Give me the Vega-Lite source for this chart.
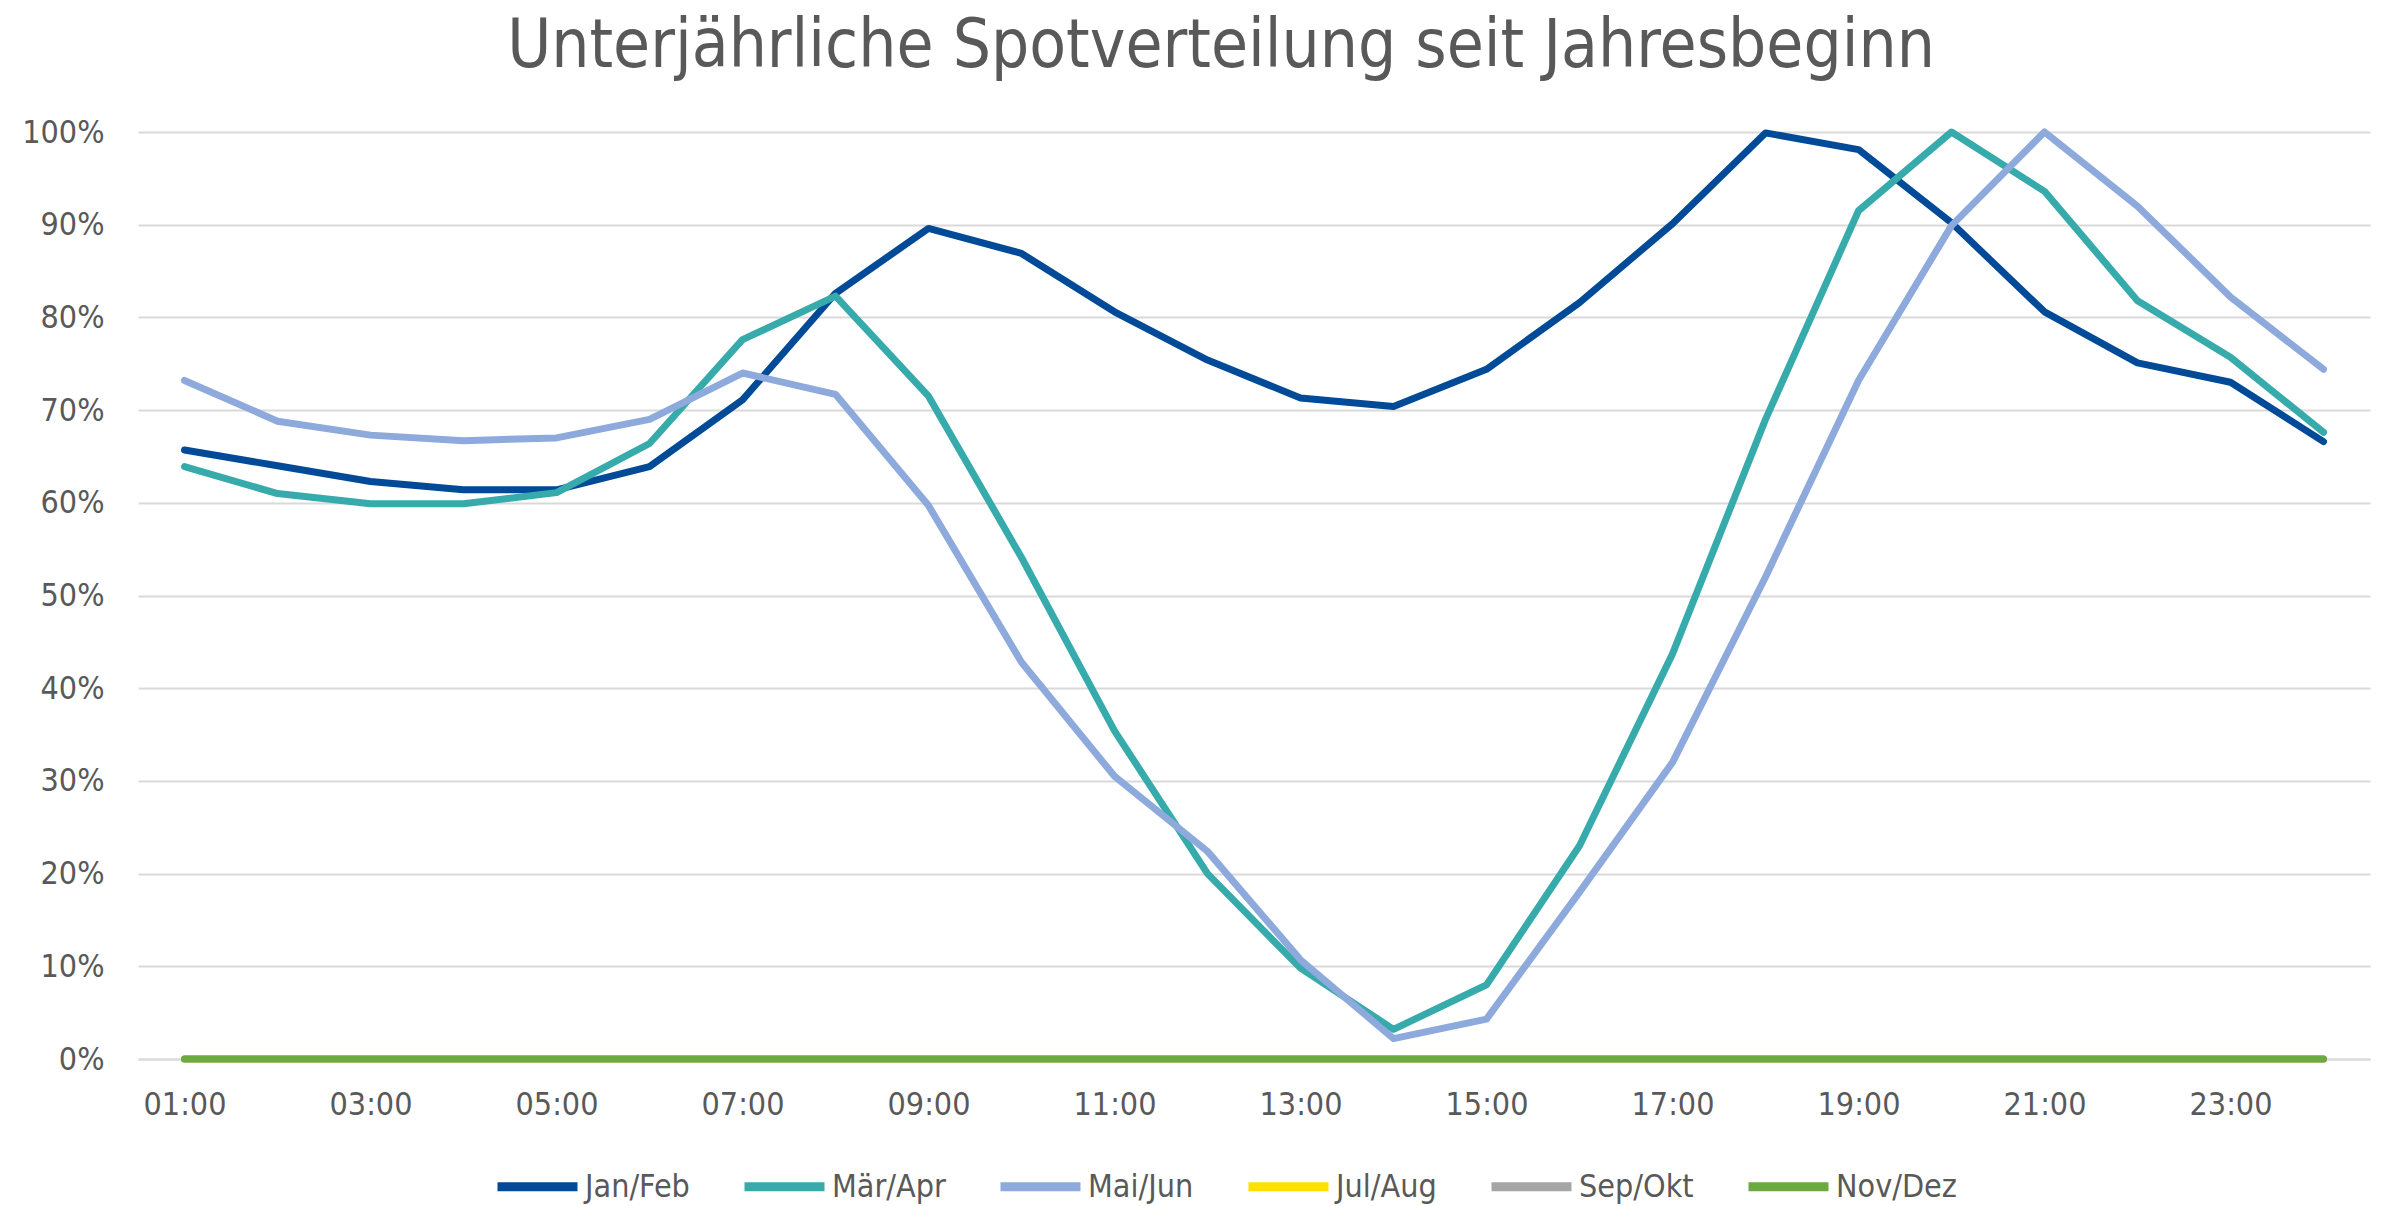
{
  "$schema": "https://vega.github.io/schema/vega-lite/v6.json",
  "autosize": "none",
  "width": 2232,
  "height": 927,
  "padding": {"left": 138, "top": 132, "right": 30, "bottom": 147},
  "background": "white",
  "config": {
    "font": "DejaVu Sans Condensed",
    "view": {"stroke": null}
  },
  "title": {
    "text": "Unterjährliche Spotverteilung seit Jahresbeginn",
    "fontSize": 67,
    "fontWeight": "normal",
    "color": "#595959",
    "anchor": "middle",
    "baseline": "alphabetic",
    "offset": -18,
    "dx": -33
  },
  "datasets": {
    "spots": [
      {"stunde": "01:00", "zeitraum": "Jan/Feb", "anteil": 0.657},
      {"stunde": "02:00", "zeitraum": "Jan/Feb", "anteil": 0.640},
      {"stunde": "03:00", "zeitraum": "Jan/Feb", "anteil": 0.623},
      {"stunde": "04:00", "zeitraum": "Jan/Feb", "anteil": 0.614},
      {"stunde": "05:00", "zeitraum": "Jan/Feb", "anteil": 0.614},
      {"stunde": "06:00", "zeitraum": "Jan/Feb", "anteil": 0.639},
      {"stunde": "07:00", "zeitraum": "Jan/Feb", "anteil": 0.711},
      {"stunde": "08:00", "zeitraum": "Jan/Feb", "anteil": 0.826},
      {"stunde": "09:00", "zeitraum": "Jan/Feb", "anteil": 0.896},
      {"stunde": "10:00", "zeitraum": "Jan/Feb", "anteil": 0.869},
      {"stunde": "11:00", "zeitraum": "Jan/Feb", "anteil": 0.806},
      {"stunde": "12:00", "zeitraum": "Jan/Feb", "anteil": 0.754},
      {"stunde": "13:00", "zeitraum": "Jan/Feb", "anteil": 0.713},
      {"stunde": "14:00", "zeitraum": "Jan/Feb", "anteil": 0.704},
      {"stunde": "15:00", "zeitraum": "Jan/Feb", "anteil": 0.744},
      {"stunde": "16:00", "zeitraum": "Jan/Feb", "anteil": 0.816},
      {"stunde": "17:00", "zeitraum": "Jan/Feb", "anteil": 0.901},
      {"stunde": "18:00", "zeitraum": "Jan/Feb", "anteil": 0.999},
      {"stunde": "19:00", "zeitraum": "Jan/Feb", "anteil": 0.981},
      {"stunde": "20:00", "zeitraum": "Jan/Feb", "anteil": 0.902},
      {"stunde": "21:00", "zeitraum": "Jan/Feb", "anteil": 0.806},
      {"stunde": "22:00", "zeitraum": "Jan/Feb", "anteil": 0.751},
      {"stunde": "23:00", "zeitraum": "Jan/Feb", "anteil": 0.730},
      {"stunde": "24:00", "zeitraum": "Jan/Feb", "anteil": 0.666},
      {"stunde": "01:00", "zeitraum": "Mär/Apr", "anteil": 0.639},
      {"stunde": "02:00", "zeitraum": "Mär/Apr", "anteil": 0.610},
      {"stunde": "03:00", "zeitraum": "Mär/Apr", "anteil": 0.599},
      {"stunde": "04:00", "zeitraum": "Mär/Apr", "anteil": 0.599},
      {"stunde": "05:00", "zeitraum": "Mär/Apr", "anteil": 0.611},
      {"stunde": "06:00", "zeitraum": "Mär/Apr", "anteil": 0.664},
      {"stunde": "07:00", "zeitraum": "Mär/Apr", "anteil": 0.776},
      {"stunde": "08:00", "zeitraum": "Mär/Apr", "anteil": 0.823},
      {"stunde": "09:00", "zeitraum": "Mär/Apr", "anteil": 0.715},
      {"stunde": "10:00", "zeitraum": "Mär/Apr", "anteil": 0.541},
      {"stunde": "11:00", "zeitraum": "Mär/Apr", "anteil": 0.354},
      {"stunde": "12:00", "zeitraum": "Mär/Apr", "anteil": 0.200},
      {"stunde": "13:00", "zeitraum": "Mär/Apr", "anteil": 0.098},
      {"stunde": "14:00", "zeitraum": "Mär/Apr", "anteil": 0.032},
      {"stunde": "15:00", "zeitraum": "Mär/Apr", "anteil": 0.080},
      {"stunde": "16:00", "zeitraum": "Mär/Apr", "anteil": 0.230},
      {"stunde": "17:00", "zeitraum": "Mär/Apr", "anteil": 0.437},
      {"stunde": "18:00", "zeitraum": "Mär/Apr", "anteil": 0.690},
      {"stunde": "19:00", "zeitraum": "Mär/Apr", "anteil": 0.915},
      {"stunde": "20:00", "zeitraum": "Mär/Apr", "anteil": 1.000},
      {"stunde": "21:00", "zeitraum": "Mär/Apr", "anteil": 0.936},
      {"stunde": "22:00", "zeitraum": "Mär/Apr", "anteil": 0.818},
      {"stunde": "23:00", "zeitraum": "Mär/Apr", "anteil": 0.757},
      {"stunde": "24:00", "zeitraum": "Mär/Apr", "anteil": 0.676},
      {"stunde": "01:00", "zeitraum": "Mai/Jun", "anteil": 0.732},
      {"stunde": "02:00", "zeitraum": "Mai/Jun", "anteil": 0.688},
      {"stunde": "03:00", "zeitraum": "Mai/Jun", "anteil": 0.673},
      {"stunde": "04:00", "zeitraum": "Mai/Jun", "anteil": 0.667},
      {"stunde": "05:00", "zeitraum": "Mai/Jun", "anteil": 0.670},
      {"stunde": "06:00", "zeitraum": "Mai/Jun", "anteil": 0.690},
      {"stunde": "07:00", "zeitraum": "Mai/Jun", "anteil": 0.740},
      {"stunde": "08:00", "zeitraum": "Mai/Jun", "anteil": 0.717},
      {"stunde": "09:00", "zeitraum": "Mai/Jun", "anteil": 0.597},
      {"stunde": "10:00", "zeitraum": "Mai/Jun", "anteil": 0.428},
      {"stunde": "11:00", "zeitraum": "Mai/Jun", "anteil": 0.305},
      {"stunde": "12:00", "zeitraum": "Mai/Jun", "anteil": 0.224},
      {"stunde": "13:00", "zeitraum": "Mai/Jun", "anteil": 0.107},
      {"stunde": "14:00", "zeitraum": "Mai/Jun", "anteil": 0.022},
      {"stunde": "15:00", "zeitraum": "Mai/Jun", "anteil": 0.043},
      {"stunde": "16:00", "zeitraum": "Mai/Jun", "anteil": 0.180},
      {"stunde": "17:00", "zeitraum": "Mai/Jun", "anteil": 0.320},
      {"stunde": "18:00", "zeitraum": "Mai/Jun", "anteil": 0.520},
      {"stunde": "19:00", "zeitraum": "Mai/Jun", "anteil": 0.732},
      {"stunde": "20:00", "zeitraum": "Mai/Jun", "anteil": 0.899},
      {"stunde": "21:00", "zeitraum": "Mai/Jun", "anteil": 1.000},
      {"stunde": "22:00", "zeitraum": "Mai/Jun", "anteil": 0.920},
      {"stunde": "23:00", "zeitraum": "Mai/Jun", "anteil": 0.822},
      {"stunde": "24:00", "zeitraum": "Mai/Jun", "anteil": 0.744},
      {"stunde": "01:00", "zeitraum": "Jul/Aug", "anteil": 0},
      {"stunde": "02:00", "zeitraum": "Jul/Aug", "anteil": 0},
      {"stunde": "03:00", "zeitraum": "Jul/Aug", "anteil": 0},
      {"stunde": "04:00", "zeitraum": "Jul/Aug", "anteil": 0},
      {"stunde": "05:00", "zeitraum": "Jul/Aug", "anteil": 0},
      {"stunde": "06:00", "zeitraum": "Jul/Aug", "anteil": 0},
      {"stunde": "07:00", "zeitraum": "Jul/Aug", "anteil": 0},
      {"stunde": "08:00", "zeitraum": "Jul/Aug", "anteil": 0},
      {"stunde": "09:00", "zeitraum": "Jul/Aug", "anteil": 0},
      {"stunde": "10:00", "zeitraum": "Jul/Aug", "anteil": 0},
      {"stunde": "11:00", "zeitraum": "Jul/Aug", "anteil": 0},
      {"stunde": "12:00", "zeitraum": "Jul/Aug", "anteil": 0},
      {"stunde": "13:00", "zeitraum": "Jul/Aug", "anteil": 0},
      {"stunde": "14:00", "zeitraum": "Jul/Aug", "anteil": 0},
      {"stunde": "15:00", "zeitraum": "Jul/Aug", "anteil": 0},
      {"stunde": "16:00", "zeitraum": "Jul/Aug", "anteil": 0},
      {"stunde": "17:00", "zeitraum": "Jul/Aug", "anteil": 0},
      {"stunde": "18:00", "zeitraum": "Jul/Aug", "anteil": 0},
      {"stunde": "19:00", "zeitraum": "Jul/Aug", "anteil": 0},
      {"stunde": "20:00", "zeitraum": "Jul/Aug", "anteil": 0},
      {"stunde": "21:00", "zeitraum": "Jul/Aug", "anteil": 0},
      {"stunde": "22:00", "zeitraum": "Jul/Aug", "anteil": 0},
      {"stunde": "23:00", "zeitraum": "Jul/Aug", "anteil": 0},
      {"stunde": "24:00", "zeitraum": "Jul/Aug", "anteil": 0},
      {"stunde": "01:00", "zeitraum": "Sep/Okt", "anteil": 0},
      {"stunde": "02:00", "zeitraum": "Sep/Okt", "anteil": 0},
      {"stunde": "03:00", "zeitraum": "Sep/Okt", "anteil": 0},
      {"stunde": "04:00", "zeitraum": "Sep/Okt", "anteil": 0},
      {"stunde": "05:00", "zeitraum": "Sep/Okt", "anteil": 0},
      {"stunde": "06:00", "zeitraum": "Sep/Okt", "anteil": 0},
      {"stunde": "07:00", "zeitraum": "Sep/Okt", "anteil": 0},
      {"stunde": "08:00", "zeitraum": "Sep/Okt", "anteil": 0},
      {"stunde": "09:00", "zeitraum": "Sep/Okt", "anteil": 0},
      {"stunde": "10:00", "zeitraum": "Sep/Okt", "anteil": 0},
      {"stunde": "11:00", "zeitraum": "Sep/Okt", "anteil": 0},
      {"stunde": "12:00", "zeitraum": "Sep/Okt", "anteil": 0},
      {"stunde": "13:00", "zeitraum": "Sep/Okt", "anteil": 0},
      {"stunde": "14:00", "zeitraum": "Sep/Okt", "anteil": 0},
      {"stunde": "15:00", "zeitraum": "Sep/Okt", "anteil": 0},
      {"stunde": "16:00", "zeitraum": "Sep/Okt", "anteil": 0},
      {"stunde": "17:00", "zeitraum": "Sep/Okt", "anteil": 0},
      {"stunde": "18:00", "zeitraum": "Sep/Okt", "anteil": 0},
      {"stunde": "19:00", "zeitraum": "Sep/Okt", "anteil": 0},
      {"stunde": "20:00", "zeitraum": "Sep/Okt", "anteil": 0},
      {"stunde": "21:00", "zeitraum": "Sep/Okt", "anteil": 0},
      {"stunde": "22:00", "zeitraum": "Sep/Okt", "anteil": 0},
      {"stunde": "23:00", "zeitraum": "Sep/Okt", "anteil": 0},
      {"stunde": "24:00", "zeitraum": "Sep/Okt", "anteil": 0},
      {"stunde": "01:00", "zeitraum": "Nov/Dez", "anteil": 0},
      {"stunde": "02:00", "zeitraum": "Nov/Dez", "anteil": 0},
      {"stunde": "03:00", "zeitraum": "Nov/Dez", "anteil": 0},
      {"stunde": "04:00", "zeitraum": "Nov/Dez", "anteil": 0},
      {"stunde": "05:00", "zeitraum": "Nov/Dez", "anteil": 0},
      {"stunde": "06:00", "zeitraum": "Nov/Dez", "anteil": 0},
      {"stunde": "07:00", "zeitraum": "Nov/Dez", "anteil": 0},
      {"stunde": "08:00", "zeitraum": "Nov/Dez", "anteil": 0},
      {"stunde": "09:00", "zeitraum": "Nov/Dez", "anteil": 0},
      {"stunde": "10:00", "zeitraum": "Nov/Dez", "anteil": 0},
      {"stunde": "11:00", "zeitraum": "Nov/Dez", "anteil": 0},
      {"stunde": "12:00", "zeitraum": "Nov/Dez", "anteil": 0},
      {"stunde": "13:00", "zeitraum": "Nov/Dez", "anteil": 0},
      {"stunde": "14:00", "zeitraum": "Nov/Dez", "anteil": 0},
      {"stunde": "15:00", "zeitraum": "Nov/Dez", "anteil": 0},
      {"stunde": "16:00", "zeitraum": "Nov/Dez", "anteil": 0},
      {"stunde": "17:00", "zeitraum": "Nov/Dez", "anteil": 0},
      {"stunde": "18:00", "zeitraum": "Nov/Dez", "anteil": 0},
      {"stunde": "19:00", "zeitraum": "Nov/Dez", "anteil": 0},
      {"stunde": "20:00", "zeitraum": "Nov/Dez", "anteil": 0},
      {"stunde": "21:00", "zeitraum": "Nov/Dez", "anteil": 0},
      {"stunde": "22:00", "zeitraum": "Nov/Dez", "anteil": 0},
      {"stunde": "23:00", "zeitraum": "Nov/Dez", "anteil": 0},
      {"stunde": "24:00", "zeitraum": "Nov/Dez", "anteil": 0}
    ]
  },
  "data": {"name": "spots"},
  "mark": {"type": "line", "strokeWidth": 7, "strokeCap": "round", "strokeJoin": "round"},
  "encoding": {
    "x": {
      "field": "stunde",
      "type": "ordinal",
      "sort": null,
      "scale": {"type": "point", "padding": 0.5},
      "axis": {
        "title": null,
        "values": ["01:00", "03:00", "05:00", "07:00", "09:00", "11:00", "13:00", "15:00", "17:00", "19:00", "21:00", "23:00"],
        "labelAngle": 0,
        "labelFontSize": 32,
        "labelColor": "#595959",
        "labelPadding": 30,
        "ticks": false,
        "domain": true,
        "domainColor": "#d9d9d9",
        "domainWidth": 2,
        "grid": false
      }
    },
    "y": {
      "field": "anteil",
      "type": "quantitative",
      "scale": {"domain": [0, 1], "nice": false},
      "axis": {
        "title": null,
        "values": [0, 0.1, 0.2, 0.3, 0.4, 0.5, 0.6, 0.7, 0.8, 0.9, 1],
        "format": ".0%",
        "labelFontSize": 32,
        "labelColor": "#595959",
        "labelPadding": 34,
        "ticks": false,
        "domain": false,
        "grid": true,
        "gridColor": "#d9d9d9",
        "gridWidth": 2
      }
    },
    "color": {
      "field": "zeitraum",
      "type": "nominal",
      "sort": ["Jan/Feb", "Mär/Apr", "Mai/Jun", "Jul/Aug", "Sep/Okt", "Nov/Dez"],
      "scale": {
        "domain": ["Jan/Feb", "Mär/Apr", "Mai/Jun", "Jul/Aug", "Sep/Okt", "Nov/Dez"],
        "range": ["#004a97", "#37aaab", "#8eaadc", "#ffe000", "#a5a5a5", "#6aaa40"]
      },
      "legend": {
        "title": null,
        "orient": "none",
        "direction": "horizontal",
        "legendX": 355,
        "legendY": 1010,
        "symbolType": "stroke",
        "symbolSize": 6400,
        "symbolStrokeWidth": 9,
        "labelFontSize": 32,
        "labelColor": "#595959",
        "labelOffset": 3,
        "columnPadding": 36
      }
    },
    "order": {"field": "zeitraum"}
  }
}
